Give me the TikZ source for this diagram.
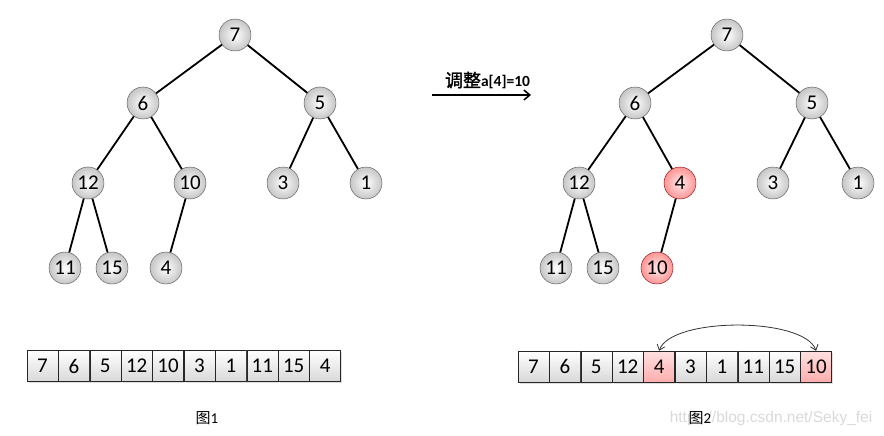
\documentclass[tikz,border=0pt]{standalone}
\usepackage{fontspec}
\setmainfont{Carlito}
\newfontfamily\cjk{Noto Sans CJK SC}
\newfontfamily\cjkbold[FakeBold=1.5]{Noto Sans CJK SC}
\newfontfamily\wmfont{Liberation Sans}
\usepackage{tikz}
\usetikzlibrary{positioning,shadows,arrows.meta}

\tikzset{
  key/.style={circle, draw=gray!60!black, inner color=white, outer color=gray!45,
    minimum size=32pt, inner sep=0pt, font=\fontsize{21}{21}\selectfont},
  hot/.style={inner color=red!8, outer color=red!42, draw=red!45!black},
  cell/.style={rectangle, draw=black!85, top color=white, bottom color=gray!30,
    minimum width=31pt, minimum height=31pt, inner sep=0pt,
    font=\fontsize{21}{21}\selectfont,
    drop shadow={shadow xshift=1.5pt, shadow yshift=-1.5pt, opacity=0.25}},
  hotcell/.style={top color=red!12, bottom color=red!32},
  edge/.style={line width=1.8pt},
}

\begin{document}
\begin{tikzpicture}[x=1pt, y=-1pt, node distance=0pt]
  \useasboundingbox (0,0) rectangle (884,436);

  % figure 1: tree
  \node[key] (l7) at (235,35) {7};
  \node[key] (l6) at (143,103) {6};
  \node[key] (l5) at (320,103) {5};
  \node[key] (l12) at (88,183) {12};
  \node[key] (l10) at (190,183) {10};
  \node[key] (l3) at (283,183) {3};
  \node[key] (l1) at (366,183) {1};
  \node[key] (l11) at (65,268) {11};
  \node[key] (l15) at (112,268) {15};
  \node[key] (l4) at (166,268) {4};

  \draw[edge] (l7) -- (l6);
  \draw[edge] (l7) -- (l5);
  \draw[edge] (l6) -- (l12);
  \draw[edge] (l6) -- (l10);
  \draw[edge] (l5) -- (l3);
  \draw[edge] (l5) -- (l1);
  \draw[edge] (l12) -- (l11);
  \draw[edge] (l12) -- (l15);
  \draw[edge] (l10) -- (l4);

  % figure 2: tree after a[4]=10
  \node[key] (r7) at (727,35) {7};
  \node[key] (r6) at (635,103) {6};
  \node[key] (r5) at (812,103) {5};
  \node[key] (r12) at (579,183) {12};
  \node[key, hot] (r4) at (680,183) {4};
  \node[key] (r3) at (773,183) {3};
  \node[key] (r1) at (858,183) {1};
  \node[key] (r11) at (556,268) {11};
  \node[key] (r15) at (603,268) {15};
  \node[key, hot] (r10) at (657,268) {10};

  \draw[edge] (r7) -- (r6);
  \draw[edge] (r7) -- (r5);
  \draw[edge] (r6) -- (r12);
  \draw[edge] (r6) -- (r4);
  \draw[edge] (r5) -- (r3);
  \draw[edge] (r5) -- (r1);
  \draw[edge] (r12) -- (r11);
  \draw[edge] (r12) -- (r15);
  \draw[edge] (r4) -- (r10);

  % step arrow
  \coordinate (s) at (432,95);
  \coordinate (t) at (531,95);
  \draw[line width=1.5pt, -{Straight Barb[length=6pt, width=10pt]}] (s) -- node[above=5pt, inner sep=0pt, xshift=6pt]
    {{\cjkbold\fontsize{18}{18}\selectfont 调整}{\bfseries\fontsize{15.5}{15.5}\selectfont a[4]=10}} (t);

  % array of figure 1
  \node[cell] (la1) at (42.5,366) {7};
  \node[cell, right=of la1] (la2) {6};
  \node[cell, right=of la2] (la3) {5};
  \node[cell, right=of la3] (la4) {12};
  \node[cell, right=of la4] (la5) {10};
  \node[cell, right=of la5] (la6) {3};
  \node[cell, right=of la6] (la7) {1};
  \node[cell, right=of la7] (la8) {11};
  \node[cell, right=of la8] (la9) {15};
  \node[cell, right=of la9] (la10) {4};

  % array of figure 2
  \node[cell] (ra1) at (533.5,366.5) {7};
  \node[cell, right=of ra1] (ra2) {6};
  \node[cell, right=of ra2] (ra3) {5};
  \node[cell, right=of ra3] (ra4) {12};
  \node[cell, hotcell, right=of ra4] (ra5) {4};
  \node[cell, right=of ra5] (ra6) {3};
  \node[cell, right=of ra6] (ra7) {1};
  \node[cell, right=of ra7] (ra8) {11};
  \node[cell, right=of ra8] (ra9) {15};
  \node[cell, hotcell, right=of ra9] (ra10) {10};

  \draw[line width=0.8pt, black!80, {Straight Barb[length=5pt, width=8pt]}-{Straight Barb[length=5pt, width=8pt]}]
    (ra5.north) .. controls +(12,-34) and +(-12,-34) .. (ra10.north);

  % captions
  \node[text=gray!30, font=\wmfont\fontsize{15.5}{15.5}\selectfont] (wm) at (771,418) {https://blog.csdn.net/Seky\_fei};
  \node[font=\fontsize{15}{15}\selectfont] (c1) at (207,418) {{\cjk 图}1};
  \node[font=\fontsize{15}{15}\selectfont] (c2) at (700,418) {{\cjk 图}2};
\end{tikzpicture}
\end{document}
